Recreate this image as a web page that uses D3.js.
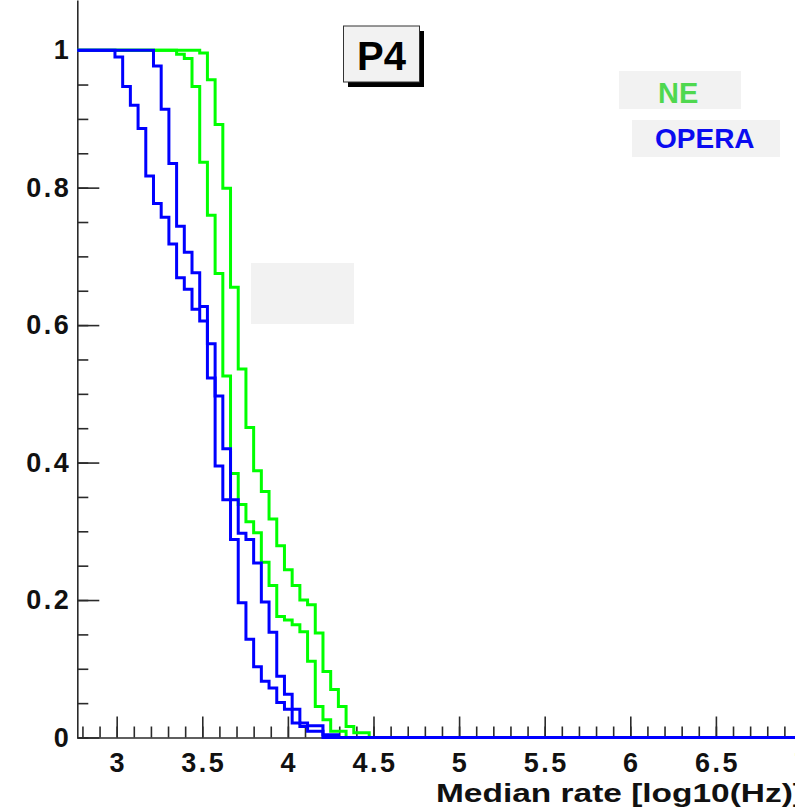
<!DOCTYPE html>
<html>
<head>
<meta charset="utf-8">
<script src="https://cdn.jsdelivr.net/npm/d3@7"></script>
<style>
  body { margin: 0; background: #fff; }
  svg text { font-family: "Liberation Sans", Arial, Helvetica, sans-serif; font-weight: bold; }
</style>
</head>
<body>
<svg id="svg1" width="795" height="810"></svg>
<script>
const svg1 = d3.select('#svg1');

// histogram binning (log10 Hz)
const binStart = 2.945;
const binWidth = 0.045;

// fraction of channels above threshold, one value per bin
const neInner = [1, 1, 1, 1, 1, 1, 1, 1, 1,
  0.994, 0.988, 0.947, 0.837, 0.760, 0.675, 0.526, 0.384, 0.339, 0.314, 0.298,
  0.255, 0.221, 0.176, 0.171, 0.164, 0.154, 0.111, 0.045, 0.026, 0.009,
  0.009, 0, 0, 0, 0, 0];
const neOuter = [1, 1, 1, 1, 1, 1, 1, 1, 1, 1, 1, 1,
  0.996, 0.957, 0.892, 0.799, 0.655, 0.536, 0.451, 0.388,
  0.358, 0.318, 0.279, 0.244, 0.221, 0.200, 0.193, 0.152, 0.096, 0.070,
  0.045, 0.016, 0.007, 0.007, 0, 0];
const operaEarly = [1, 0.990, 0.947, 0.920, 0.886, 0.817, 0.777, 0.757, 0.718, 0.669,
  0.652, 0.623, 0.606, 0.523, 0.395, 0.346, 0.346, 0.297, 0.288, 0.254,
  0.197, 0.153, 0.089, 0.063, 0.041, 0.021, 0.017, 0.017, 0.004, 0.004,
  0, 0, 0, 0, 0, 0];
const operaLate = [1, 1, 1, 1, 1, 1,
  0.977, 0.914, 0.835, 0.744,
  0.706, 0.676, 0.627, 0.573, 0.497, 0.420, 0.288, 0.196, 0.143, 0.103,
  0.082, 0.072, 0.051, 0.041, 0.021, 0.016, 0.009, 0.009,
  0, 0, 0, 0, 0, 0, 0, 0];

const xMajor = [3, 3.5, 4, 4.5, 5, 5.5, 6, 6.5, 7];
const yMajor = [0, 0.2, 0.4, 0.6, 0.8, 1];

const title = 'P4';
const xAxisLabel = 'Median rate [log10(Hz)]';
const legendItems = [
  { label: 'NE', colour: '#4fd84f' },
  { label: 'OPERA', colour: '#0b0bf0' }
];

const xMin = 2.77, xMax = 7.0;
const xScale = d3.scaleLinear().domain([xMin, xMax]).range([77.3, 801.5]);
const yScale = d3.scaleLinear().domain([0, 1.073]).range([737.5, 0]);

const axisColour = '#2a2a2a';

// y axis
const yMinorG = svg1.append('g')
  .attr('transform', `translate(${xScale(xMin)},0)`)
  .call(d3.axisLeft(yScale).tickValues(d3.range(0, 1.01, 0.05)).tickSize(-11).tickSizeOuter(0).tickFormat(''));
yMinorG.select('.domain').remove();

const yAxisG = svg1.append('g')
  .attr('transform', `translate(${xScale(xMin)},0)`)
  .call(d3.axisLeft(yScale).tickValues(yMajor).tickSize(-22).tickSizeOuter(0).tickPadding(6).tickFormat(d => d));

// x axis
const xMinorG = svg1.append('g')
  .attr('transform', `translate(0,${yScale(0)})`)
  .call(d3.axisBottom(xScale).tickValues(d3.range(2.8, 7.05, 0.1)).tickSize(-11).tickSizeOuter(0).tickFormat(''));
xMinorG.select('.domain').remove();

const xAxisG = svg1.append('g')
  .attr('transform', `translate(0,${yScale(0)})`)
  .call(d3.axisBottom(xScale).tickValues(xMajor).tickSize(-21).tickSizeOuter(0).tickPadding(15).tickFormat(d => d));

svg1.selectAll('.domain, .tick line')
  .attr('stroke', axisColour)
  .attr('stroke-width', 1.6);
svg1.selectAll('.tick text')
  .attr('fill', '#111')
  .style('font-size', '27px')
  .style('letter-spacing', '2.5px');
xAxisG.selectAll('.tick text').attr('dx', '1px');

svg1.append('text')
  .attr('x', 436)
  .attr('y', 802)
  .attr('fill', '#111')
  .style('font-size', '25px')
  .attr('textLength', 368)
  .attr('lengthAdjust', 'spacingAndGlyphs')
  .text(xAxisLabel);

// histograms
const stepPoints = values => {
  const pts = values.map((v, i) => [i === 0 ? xMin : binStart + i * binWidth, v]);
  pts.push([xMax, values[values.length - 1]]);
  return pts;
};

const lineGenerator = d3.line()
  .x(d => xScale(d[0]))
  .y(d => yScale(d[1]))
  .curve(d3.curveStepAfter);

const series = [
  { values: neInner, colour: '#00ff00' },
  { values: neOuter, colour: '#00ff00' },
  { values: operaEarly, colour: '#0000ff' },
  { values: operaLate, colour: '#0000ff' }
];

svg1.append('g').selectAll('.line-path').data(series)
  .enter().append('path')
    .attr('class', 'line-path')
    .attr('d', d => lineGenerator(stepPoints(d.values)))
    .attr('fill', 'none')
    .attr('stroke', d => d.colour)
    .attr('stroke-width', 3)
    .attr('stroke-linejoin', 'miter');

// empty grey label box
svg1.append('rect')
  .attr('x', 251).attr('y', 263)
  .attr('width', 103).attr('height', 61)
  .attr('fill', '#f2f2f2');

// title box with shadow
svg1.append('rect')
  .attr('x', 348).attr('y', 31)
  .attr('width', 76).attr('height', 56)
  .attr('fill', '#000');
svg1.append('rect')
  .attr('x', 343.5).attr('y', 26)
  .attr('width', 76).attr('height', 56)
  .attr('fill', '#f2f2f2')
  .attr('stroke', '#333')
  .attr('stroke-width', 1);
svg1.append('text')
  .attr('x', 381.5).attr('y', 70)
  .attr('text-anchor', 'middle')
  .attr('fill', '#000')
  .style('font-size', '40px')
  .text(title);

// legend labels
const legendBoxes = [
  { x: 619, y: 71, w: 122, h: 38, tx: 658, ty: 103, size: 29 },
  { x: 632, y: 120, w: 148, h: 37, tx: 655, ty: 148, size: 28 }
];
legendItems.forEach((item, i) => {
  const b = legendBoxes[i];
  svg1.append('rect')
    .attr('x', b.x).attr('y', b.y)
    .attr('width', b.w).attr('height', b.h)
    .attr('fill', '#f2f2f2');
  svg1.append('text')
    .attr('x', b.tx).attr('y', b.ty)
    .attr('fill', item.colour)
    .style('font-size', `${b.size}px`)
    .text(item.label);
});
</script>
</body>
</html>
